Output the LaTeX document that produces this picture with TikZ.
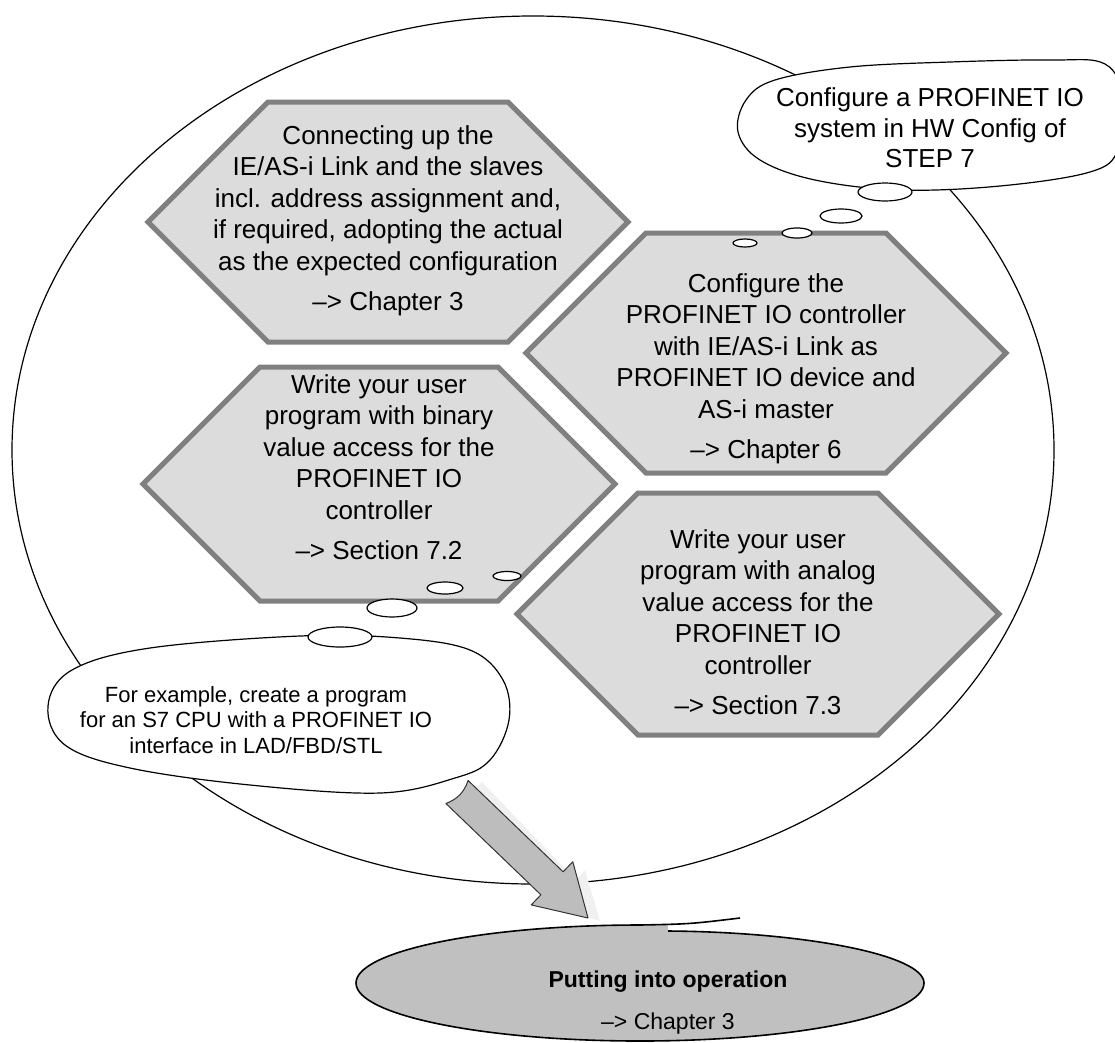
\documentclass[tikz,border=0pt]{standalone}
\usepackage{fontspec}
\setmainfont{Liberation Sans}
\usetikzlibrary{shapes.geometric,backgrounds}

\definecolor{hexfill}{HTML}{DCDCDC}
\definecolor{hexedge}{HTML}{808080}
\definecolor{opfill}{HTML}{C0C0C0}
\definecolor{arrfill}{HTML}{BDBDBD}

\tikzset{
  hexline/.style={fill=hexfill, draw=hexedge, line width=5pt, line join=miter},
  hextext/.style={align=center, font=\fontsize{26}{31.5}\selectfont},
  cloudtext/.style={align=center, font=\fontsize{26}{30.5}\selectfont},
  puff/.style={ellipse, draw, fill=white, line width=1.2pt, inner sep=0pt},
  cloudline/.style={draw, fill=white, line width=1.2pt},
}

% hexagon: centre x, centre y, half width, half height
\newcommand{\hexcell}[4]{%
  \filldraw[hexline] ({#1-#3},#2) -- ({#1-#3+#4},{#2-#4}) -- ({#1+#3-#4},{#2-#4})
    -- ({#1+#3},#2) -- ({#1+#3-#4},{#2+#4}) -- ({#1-#3+#4},{#2+#4}) -- cycle;}

\begin{document}
\begin{tikzpicture}[x=1pt,y=-1pt]
\useasboundingbox (0,0) rectangle (1115,1042);

\begin{scope}[on background layer]
\draw[line width=1.2pt] (533,450) ellipse [x radius=521, y radius=434];
\hexcell{388}{222}{240}{120}
\hexcell{766}{353}{240}{120}
\hexcell{379}{484}{236}{117}
\hexcell{758}{614}{241}{121}
\end{scope}

\node[hextext] (conn) at (388,221) {Connecting up the\\IE/AS-i Link and the slaves\\incl. address assignment and,\\if required, adopting the actual\\as the expected configuration\\[9pt]\textendash> Chapter 3};
\node[hextext] (cfg) at (766,369) {Configure the\\PROFINET IO controller\\with IE/AS-i Link as\\PROFINET IO device and\\AS-i master\\[9pt]\textendash> Chapter 6};
\node[hextext] (bin) at (379,467) {Write your user\\program with binary\\value access for the\\PROFINET IO\\controller\\[9pt]\textendash> Section 7.2};
\node[hextext] (ana) at (758,622) {Write your user\\program with analog\\value access for the\\PROFINET IO\\controller\\[9pt]\textendash> Section 7.3};

% thought clouds
\draw[cloudline] plot[smooth cycle, tension=0.6] coordinates {(738,132) (746,100) (775,80) (850,67) (950,62) (1050,60) (1105,64) (1124,100) (1118,150) (1090,172) (1000,186) (900,190) (815,180) (760,160)};
\node[cloudtext] (hwcfg) at (930,128) {Configure a PROFINET IO\\system in HW Config of\\STEP 7};

\draw[cloudline] plot[smooth cycle, tension=0.6] coordinates {(48,706) (72,670) (150,648) (300,636) (400,638) (470,650) (503,680) (509,720) (490,760) (455,778) (380,793) (250,785) (130,768) (65,745)};
\node[align=center, font=\fontsize{22}{25.5}\selectfont] (exmp) at (256,720) {For example, create a program\\for an S7 CPU with a PROFINET IO\\interface in LAD/FBD/STL};

\foreach \px/\py/\pw/\ph [count=\i] in {885/192/54pt/18pt, 841/216/42pt/14pt, 797/233/30pt/10pt, 745/243/24pt/8pt}
  \node[puff, minimum width=\pw, minimum height=\ph] (hwpuff\i) at (\px,\py) {};
\foreach \px/\py/\pw/\ph [count=\i] in {340/637/64pt/20pt, 392/608/50pt/18pt, 445/588/36pt/12pt, 507/576/28pt/9pt}
  \node[puff, minimum width=\pw, minimum height=\ph] (expuff\i) at (\px,\py) {};

% block arrow to the start-up ellipse
\coordinate (arrS) at (457,792);
\coordinate (arrT) at (588,918);
\fill[black!6] (458,804) -- (556,896) -- (547,905) -- (600,921) -- (585,870) -- (576,880) -- (482,782) -- cycle;
\filldraw[fill=arrfill, draw=black!80, line width=1pt, line join=round]
  (445.9,803.5) -- (540.9,894.8) -- (531.2,904.9) -- (arrT) -- (572.8,861.7) -- (563.1,871.8)
  -- (468.1,780.5) to[bend left=25] cycle;

% start-up ellipse
\fill[opfill] (668,931) .. controls (805,932) and (924,955) .. (924,983)
  arc[start angle=0, end angle=180, x radius=284, y radius=58]
  arc[start angle=180, end angle=270, x radius=284, y radius=58] -- (668,924) -- cycle;
\draw[line width=1.6pt] (668,931) .. controls (805,932) and (924,955) .. (924,983)
  arc[start angle=0, end angle=180, x radius=284, y radius=58]
  arc[start angle=180, end angle=270, x radius=284, y radius=58] .. controls (690,924) .. (740,918);
\node[align=center, font=\fontsize{23}{42}\selectfont] (op) at (668,1003) {\textbf{Putting into operation}\\\textendash> Chapter 3};
\end{tikzpicture}
\end{document}
